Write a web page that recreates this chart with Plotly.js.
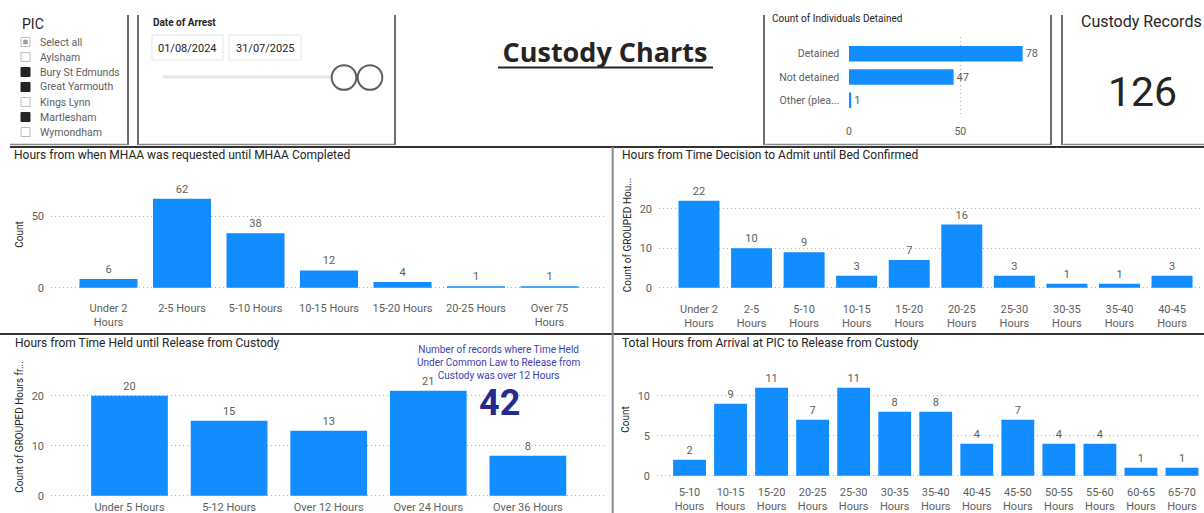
<!DOCTYPE html>
<html><head><meta charset="utf-8">
<script src="https://cdn.plot.ly/plotly-3.0.1.min.js"></script>
<style>html,body{margin:0;padding:0;background:#fff;overflow:hidden}#chart{width:1204px;height:513px}</style>
</head><body><div id="chart"></div><script>
// ---------- data ----------
const picItems = ['Select all','Aylsham','Bury St Edmunds','Great Yarmouth','Kings Lynn','Martlesham','Wymondham'];
const picStates = ['partial','off','on','on','off','on','off'];
const dateFrom = '01/08/2024';
const dateTo = '31/07/2025';
const detainedCats = ['Detained','Not detained','Other (plea...'];
const detainedCounts = [78,47,1];
const custodyRecords = [126];
const mhaaCats = ['Under 2<br>Hours','2-5 Hours','5-10 Hours','10-15 Hours','15-20 Hours','20-25 Hours','Over 75<br>Hours'];
const mhaaCounts = [6,62,38,12,4,1,1];
const bedCats = ['Under 2<br>Hours','2-5<br>Hours','5-10<br>Hours','10-15<br>Hours','15-20<br>Hours','20-25<br>Hours','25-30<br>Hours','30-35<br>Hours','35-40<br>Hours','40-45<br>Hours'];
const bedCounts = [22,10,9,3,7,16,3,1,1,3];
const heldCats = ['Under 5 Hours','5-12 Hours','Over 12 Hours','Over 24 Hours','Over 36 Hours'];
const heldCounts = [20,15,13,21,8];
const over12Count = [42];
const totalCats = ['5-10<br>Hours','10-15<br>Hours','15-20<br>Hours','20-25<br>Hours','25-30<br>Hours','30-35<br>Hours','35-40<br>Hours','40-45<br>Hours','45-50<br>Hours','50-55<br>Hours','55-60<br>Hours','60-65<br>Hours','65-70<br>Hours'];
const totalCounts = [2,9,11,7,11,8,8,4,7,4,4,1,1];

// ---------- layout helpers ----------
const W = 1204, H = 513;
const X = p => p / W, Y = p => 1 - p / H;
const BLUE = '#118DFF', GREY = '#605E5C', DARK = '#252423';
const FONT = 'Roboto';
const GRID = {gridcolor:'#B3B0AD', griddash:'1px,3px', gridwidth:1};
function catX(left, right, c0, sp, extra) {
  return Object.assign({type:'category', domain:[X(left), X(right)], range:[(left-c0)/sp, (right-c0)/sp],
    showgrid:false, zeroline:false, showline:false, ticks:'', fixedrange:true,
    tickfont:{family:FONT, size:11, color:GREY}}, extra||{});
}
function valY(top, bottom, y0, ppu, dtick, title, extra) {
  return Object.assign({domain:[Y(bottom), Y(top)], range:[(y0-bottom)/ppu, (y0-top)/ppu], dtick:dtick,
    showgrid:true, zeroline:false, showline:false,
    ticks:'', ticklabelstandoff:6, fixedrange:true, tickfont:{family:FONT, size:11, color:GREY},
    title:{text:title, standoff:6, font:{family:FONT, size:10, color:DARK}}}, GRID, extra||{});
}
function vbar(cats, vals, xa, ya, w) {
  return {type:'bar', x:cats, y:vals, xaxis:xa, yaxis:ya, width:w, marker:{color:BLUE},
    texttemplate:'%{y}', textposition:'outside', cliponaxis:false, constraintext:'none',
    textfont:{family:FONT, size:11, color:GREY}, hoverinfo:'skip'};
}

const data = [
  vbar(mhaaCats, mhaaCounts, 'x', 'y', 0.79),
  vbar(bedCats, bedCounts, 'x2', 'y2', 0.78),
  vbar(heldCats, heldCounts, 'x3', 'y3', 0.77),
  vbar(totalCats, totalCounts, 'x4', 'y4', 0.80),
  {type:'bar', orientation:'h', y:detainedCats, x:detainedCounts, xaxis:'x5', yaxis:'y5', width:0.67,
   marker:{color:BLUE}, texttemplate:'%{x}', textposition:'outside', cliponaxis:false, constraintext:'none',
   textfont:{family:FONT, size:11, color:GREY}, hoverinfo:'skip'}
];

const shapes = [];
function line(x0,y0,x1,y1,color,width){ shapes.push({type:'line',xref:'paper',yref:'paper',x0:X(x0),y0:Y(y0),x1:X(x1),y1:Y(y1),line:{color:color,width:width}}); }
function rect(x0,y0,x1,y1,fill,color,width){ shapes.push({type:'rect',xref:'paper',yref:'paper',x0:X(x0),y0:Y(y0),x1:X(x1),y1:Y(y1),fillcolor:fill,line:{color:color,width:width}}); }
function circ(cx,cy,r,fill,color,width){ shapes.push({type:'circle',xref:'paper',yref:'paper',x0:X(cx-r),y0:Y(cy+r),x1:X(cx+r),y1:Y(cy-r),fillcolor:fill,line:{color:color,width:width}}); }

// frames of the top row
line(128,15,128,145,'#6E6E6E',2);
line(10,144.5,128,144.5,'#8A8A8A',1.5);
line(138,15,138,145,'#6E6E6E',2);
line(395,15,395,145,'#6E6E6E',2);
line(138,144.5,395,144.5,'#8A8A8A',1.5);
line(764,15,764,145,'#6E6E6E',2);
line(1051,15,1051,145,'#6E6E6E',2);
line(764,144.5,1051,144.5,'#8A8A8A',1.5);
line(1062,15,1062,145,'#6E6E6E',2);
line(1062,144.5,1204,144.5,'#8A8A8A',1.5);
// panel separators
line(10,147,1204,147,'#333333',2);
line(0,334,1204,334,'#333333',2);
line(612.7,147,612.7,513,'#8A8A8A',2);
// title underline
line(498,67.5,713,67.5,DARK,2);
// PIC slicer checkboxes
picStates.forEach((s,i)=>{
  const cy = 42 + 15*i;
  if (s === 'on') rect(21,cy-4.5,30,cy+4.5,DARK,DARK,1);
  else rect(21,cy-4.5,30,cy+4.5,'#FFFFFF','#BEBBB8',1);
  if (s === 'partial') rect(23.5,cy-2,27.5,cy+2,'#A19F9D','#A19F9D',0.5);
});
// date slicer
rect(152,35,223,60,'#FFFFFF','#E6E6E6',1);
rect(229,35,301,60,'#FFFFFF','#E6E6E6',1);
line(163,77,345,77,'#E6E6E6',3);
circ(344,77.5,12.3,'#FFFFFF','#5F5F5F',2);
circ(370,77.5,12.3,'#FFFFFF','#5F5F5F',2);

const annotations = [];
function ann(text,x,y,size,color,opts){ annotations.push(Object.assign({text:text,xref:'paper',yref:'paper',x:X(x),y:Y(y),
  xanchor:'left',yanchor:'middle',showarrow:false,font:{family:FONT,size:size,color:color}},opts||{})); }

ann('Hours from when MHAA was requested until MHAA Completed',12,155,12,DARK);
ann('Hours from Time Decision to Admit until Bed Confirmed',620,155,12,DARK);
ann('Hours from Time Held until Release from Custody',13,343,12,DARK);
ann('Total Hours from Arrival at PIC to Release from Custody',620,343,12,DARK);
ann('Count of Individuals Detained',770,19,10,DARK);
ann('Custody Records',1141,21,16,DARK,{xanchor:'center'});
ann(String(custodyRecords[0]),1142,92,41,DARK,{xanchor:'center'});
ann('PIC',20,24,14,DARK);
picItems.forEach((t,i)=>ann(t,38,42+15*i,10.5,GREY));
ann('<b>Date of Arrest</b>',151,22,10,DARK);
ann(dateFrom,187.5,48,11,DARK,{xanchor:'center'});
ann(dateTo,265,48,11,DARK,{xanchor:'center'});
ann('Number of records where Time Held<br>Under Common Law to Release from<br>Custody was over 12 Hours',499,362,10,'#3B41B0',{xanchor:'center',align:'center'});
ann('<b>'+over12Count[0]+'</b>',499,403,36,'#252A8F',{xanchor:'center'});

const layout = {
  width:W, height:H, margin:{l:0,r:0,t:0,b:0}, paper_bgcolor:'#FFFFFF', plot_bgcolor:'rgba(0,0,0,0)',
  showlegend:false, font:{family:FONT, color:GREY},
  title:{text:'<b>Custody Charts</b>', font:{family:'Open Sans', size:27, color:DARK}, xref:'paper', yref:'paper',
         x:X(605), xanchor:'center', y:Y(53), yanchor:'middle'},
  xaxis: catX(51,606,108.5,73.5,{anchor:'y', ticklabelstandoff:6}),
  yaxis: valY(175,294,287.7,1.434,50,'Count',{anchor:'x'}),
  xaxis2: catX(659,1201,699,52.56,{anchor:'y2', ticklabelstandoff:6}),
  yaxis2: valY(175,295,287.7,3.95,10,'Count of GROUPED Hou...',{anchor:'x2'}),
  xaxis3: catX(51,606,129.5,99.6,{anchor:'y3', ticklabelstandoff:2}),
  yaxis3: valY(357,497,495.7,5.0,10,'Count of GROUPED Hours fr...',{anchor:'x3'}),
  xaxis4: catX(657,1201,689.5,41.04,{anchor:'y4', ticklabelstandoff:2}),
  yaxis4: valY(357,482,475.7,8.0,5,'Count',{anchor:'x4'}),
  xaxis5: Object.assign({anchor:'y5', domain:[X(848.3),X(1040)], range:[-0.3,85.8], dtick:50, showgrid:true,
           zeroline:false, showline:false, ticks:'', ticklabelstandoff:6, fixedrange:true,
           tickfont:{family:FONT, size:10.5, color:GREY}}, GRID),
  yaxis5: {anchor:'x5', type:'category', domain:[Y(117),Y(37)], range:[(117-53.7)/23.3,(37-53.7)/23.3],
           showgrid:false, zeroline:false, showline:false, ticks:'', ticklabelstandoff:8, fixedrange:true,
           tickfont:{family:FONT, size:10.5, color:GREY}},
  shapes:shapes, annotations:annotations
};

Plotly.newPlot('chart', data, layout, {staticPlot:true, displayModeBar:false});
</script></body></html>
